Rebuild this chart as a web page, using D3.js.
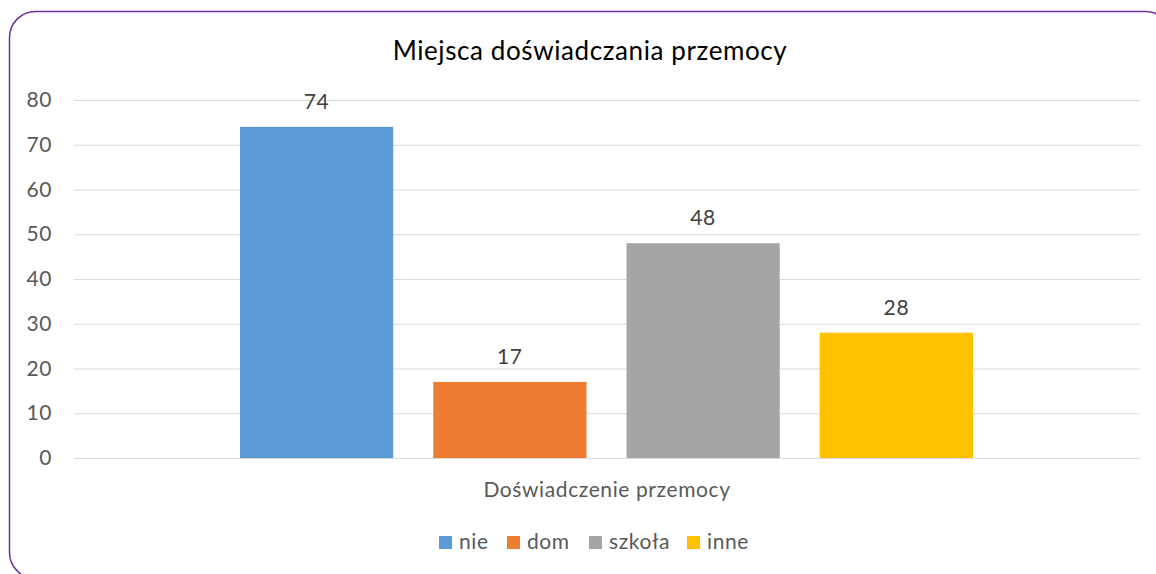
<!DOCTYPE html>
<html>
<head>
<meta charset="utf-8">
<script src="https://cdn.jsdelivr.net/npm/d3@7"></script>
<style>
  body { margin: 0; background: #fff; }
  svg text { font-family: Lato, "Open Sans", sans-serif; fill: #595959; }
</style>
</head>
<body>
<div id="chart"></div>
<script>
const categories = ['nie', 'dom', 'szkoła', 'inne'];
const values = [74, 17, 48, 28];
const colors = ['#5B9BD5', '#ED7D31', '#A5A5A5', '#FFC000'];
const yTicks = [0, 10, 20, 30, 40, 50, 60, 70, 80];
const groupLabel = 'Doświadczenie przemocy';
const title = 'Miejsca doświadczania przemocy';

const W = 1156, H = 574;
const plot = { left: 74, right: 1140, top: 100, bottom: 458 };
const textSize = '21px';
const spacing = '0.6px';

const svg = d3.select('#chart').append('svg')
  .attr('width', W)
  .attr('height', H);

// frame
svg.append('rect')
  .attr('x', 9.5).attr('y', 11.5)
  .attr('width', 1162).attr('height', 567)
  .attr('rx', 26).attr('ry', 26)
  .attr('fill', '#fff')
  .attr('stroke', '#7030A0')
  .attr('stroke-width', 1.5);

svg.append('text')
  .attr('x', 590).attr('y', 60)
  .attr('text-anchor', 'middle')
  .style('font-size', '26px')
  .style('letter-spacing', '0.6px')
  .style('fill', '#000')
  .text(title);

const y = d3.scaleLinear().domain([0, 80]).range([plot.bottom, plot.top]);

// bars occupy a centred group inside the single category
const x = d3.scaleBand()
  .domain(categories)
  .range([240, 973])
  .paddingInner(40 / 193);

// gridlines
svg.append('g')
  .selectAll('line')
  .data(yTicks)
  .join('line')
  .attr('x1', plot.left).attr('x2', plot.right)
  .attr('y1', d => y(d) + 0.5).attr('y2', d => y(d) + 0.5)
  .attr('stroke', '#D9D9D9')
  .attr('stroke-width', 1.2);

// y axis labels
const yAxis = svg.append('g')
  .attr('transform', 'translate(52,0)')
  .call(d3.axisLeft(y).tickValues(yTicks).tickSize(0).tickPadding(0));
yAxis.select('.domain').remove();
yAxis.selectAll('text')
  .style('font-family', 'Lato, "Open Sans", sans-serif')
  .style('font-size', textSize)
  .style('letter-spacing', spacing)
  .style('fill', '#595959');

// bars
svg.append('g')
  .selectAll('rect')
  .data(values)
  .join('rect')
  .attr('x', (d, i) => x(categories[i]))
  .attr('y', d => y(d))
  .attr('width', x.bandwidth())
  .attr('height', d => y(0) - y(d))
  .attr('fill', (d, i) => colors[i]);

// value labels
svg.append('g')
  .selectAll('text')
  .data(values)
  .join('text')
  .attr('x', (d, i) => x(categories[i]) + x.bandwidth() / 2)
  .attr('y', d => y(d) - 18)
  .attr('text-anchor', 'middle')
  .style('font-size', textSize)
  .style('letter-spacing', spacing)
  .style('fill', '#404040')
  .text(d => d);

// category label
svg.append('text')
  .attr('x', (plot.left + plot.right) / 2).attr('y', 497)
  .attr('text-anchor', 'middle')
  .style('font-size', textSize)
  .style('letter-spacing', spacing)
  .text(groupLabel);

// legend
const legendX = [439, 507, 589, 687];
const legend = svg.append('g')
  .selectAll('g')
  .data(categories)
  .join('g')
  .attr('transform', (d, i) => 'translate(' + legendX[i] + ',536)');
legend.append('rect')
  .attr('width', 13).attr('height', 13)
  .attr('fill', (d, i) => colors[i]);
legend.append('text')
  .attr('x', 20).attr('y', 13)
  .style('font-size', textSize)
  .style('letter-spacing', spacing)
  .text(d => d);
</script>
</body>
</html>
